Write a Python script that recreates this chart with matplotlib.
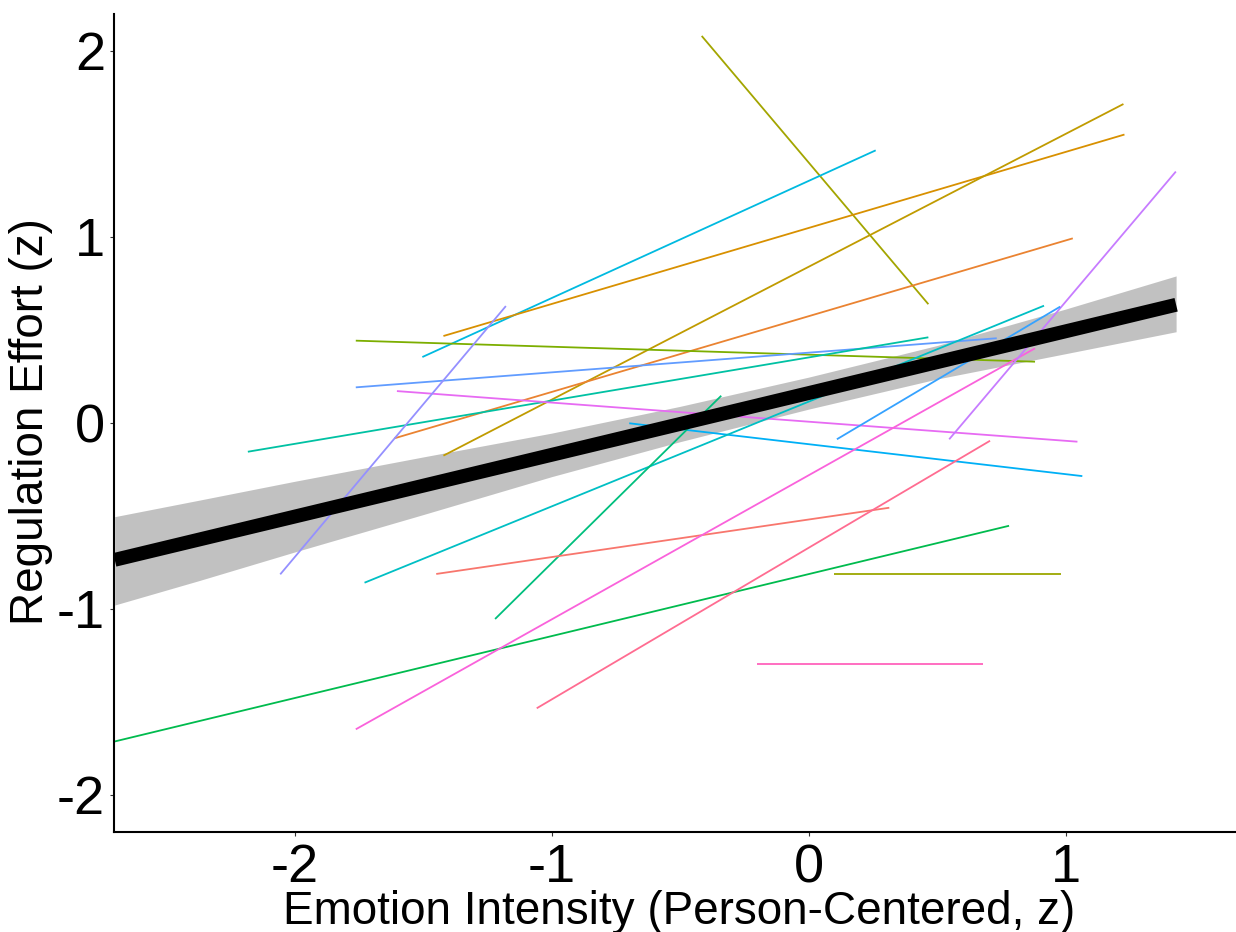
import numpy as np
import matplotlib
matplotlib.use('Agg')
import matplotlib.pyplot as plt

plt.rcParams['font.family'] = ['Liberation Sans', 'DejaVu Sans']

# per-person regression lines (start / end points)
x_start = [-0.416, -1.503, -1.421, -1.421, -1.612, -1.762, -1.762, -2.182, -1.602, -0.698, -2.056,
           -1.728, -1.220, -1.449, -2.705, 0.100, -0.202, -1.762, -1.058, 0.547, 0.110]
y_start = [2.079, 0.353, 0.466, -0.177, -0.084, 0.441, 0.190, -0.156, 0.170, -0.003, -0.815,
           -0.860, -1.055, -0.813, -1.715, -0.813, -1.296, -1.648, -1.535, -0.089, -0.089]
x_end = [0.466, 0.261, 1.229, 1.225, 1.028, 0.881, 0.732, 0.466, 1.046, 1.065, -1.178,
         0.916, -0.340, 0.314, 0.780, 0.982, 0.678, 0.881, 0.706, 1.429, 0.979]
y_end = [0.637, 1.464, 1.549, 1.713, 0.991, 0.328, 0.454, 0.459, -0.102, -0.287, 0.627,
         0.629, 0.145, -0.457, -0.554, -0.813, -1.296, 0.400, -0.097, 1.350, 0.624]
line_colors = ['#A3A500', '#00BAE0', '#D89000', '#C09B00', '#EA8331', '#7CAE00', '#619CFF',
               '#00C1A3', '#E76BF3', '#00B0F6', '#9590FF', '#00BFC4', '#00BF7D', '#F8766D',
               '#00BB4E', '#9CA700', '#FF62BC', '#FA62DB', '#FF6C91', '#C77CFF', '#35A2FF']

# overall fixed effect with confidence band
fit_x = [-2.70, 1.43]
fit_y = [-0.737, 0.634]
band_x = [-2.70, -2.37, -2.0, -1.5, -1.0, -0.5, 0.0, 0.5, 1.0, 1.43]
band_lo = [-0.980, -0.848, -0.695, -0.494, -0.290, -0.102, 0.073, 0.235, 0.371, 0.489]
band_hi = [-0.505, -0.416, -0.315, -0.184, -0.056, 0.088, 0.245, 0.415, 0.611, 0.789]

xticks = [-2, -1, 0, 1]
yticks = [-2, -1, 0, 1, 2]

fig = plt.figure(figsize=(12.36, 9.32), dpi=100)
ax = fig.add_axes([0.0922, 0.1073, 0.9078, 0.8777])

for i in range(len(x_start)):
    ax.plot([x_start[i], x_end[i]], [y_start[i], y_end[i]], color=line_colors[i], linewidth=1.3,
            solid_capstyle='butt')

ax.fill_between(band_x, band_lo, band_hi, color='#999999', alpha=0.6, linewidth=0)
ax.plot(fit_x, fit_y, color='black', linewidth=10, solid_capstyle='butt')

ax.set_xlim(-2.703, 1.663)
ax.set_ylim(-2.20, 2.197)
ax.set_xticks(xticks)
ax.set_yticks(yticks)
ax.set_xticklabels([str(t) for t in xticks])
ax.set_yticklabels([str(t) for t in yticks])
ax.tick_params(axis='both', labelsize=39, length=3, width=0.8, color='#333333')
ax.tick_params(axis='x', pad=5)
ax.tick_params(axis='y', pad=3.5)

for side in ['top', 'right']:
    ax.spines[side].set_visible(False)
for side in ['left', 'bottom']:
    ax.spines[side].set_linewidth(1.5)

fig.text(0.5498, 0.0086, 'Emotion Intensity (Person-Centered, z)', fontsize=33,
         ha='center', va='baseline')
fig.text(0.025, 0.548, 'Regulation Effort (z)', fontsize=33, rotation=90,
         ha='center', va='center')

plt.savefig('out.png', dpi=100)
